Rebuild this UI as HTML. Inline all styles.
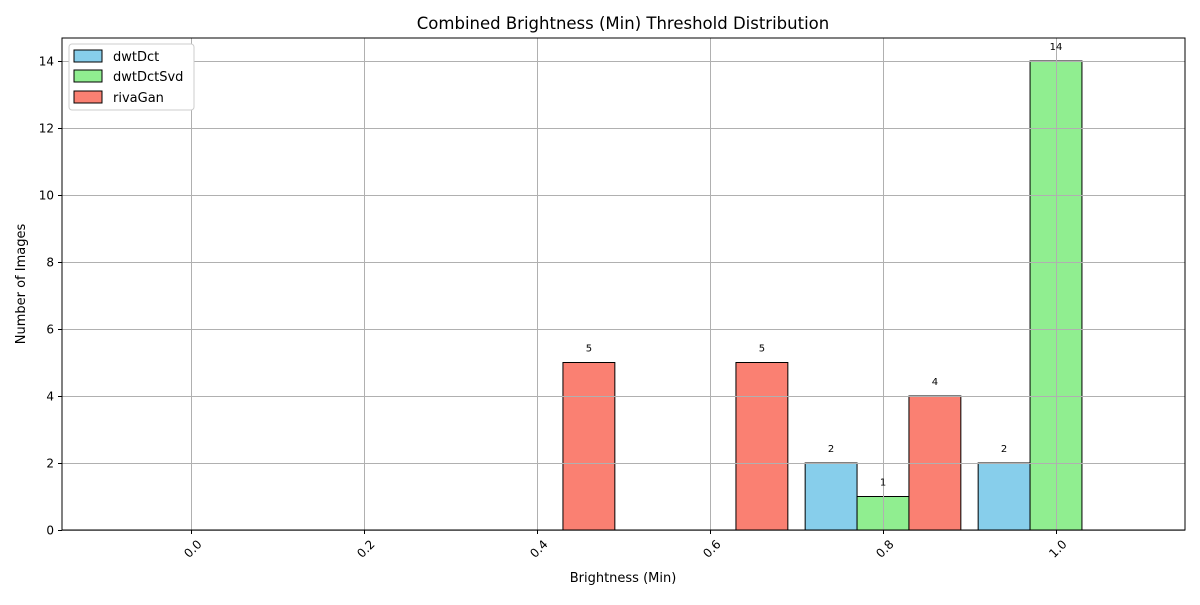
<!DOCTYPE html>
<html><head><meta charset="utf-8"><style>
body{margin:0;background:#fff;font-family:"Liberation Sans","DejaVu Sans",sans-serif;}
svg text{font-family:"DejaVu Sans","Liberation Sans",sans-serif;}
</style></head><body>
<svg id="chart" width="1200" height="600" xmlns="http://www.w3.org/2000/svg">
<rect width="1200" height="600" fill="#fff"/>
<text x="623" y="29" font-size="16.5" text-anchor="middle">Combined Brightness (Min) Threshold Distribution</text>
<g id="bars"></g>
<g id="grid"></g>
<g id="labels"></g>
<rect x="62" y="38" width="1123" height="492" fill="none" stroke="#000" stroke-width="1"/>
<g id="ticks"></g>
<text x="623" y="582" font-size="13" text-anchor="middle">Brightness (Min)</text>
<text transform="translate(25,284) rotate(-90)" font-size="13" text-anchor="middle">Number of Images</text>
<g>
<rect x="69" y="44" width="125" height="66" rx="3" fill="#fff" stroke="#ccc"/>
<rect x="74" y="50" width="28" height="12" fill="#87ceeb" stroke="#000"/>
<text x="113" y="61" font-size="13">dwtDct</text>
<rect x="74" y="70" width="28" height="12" fill="#90ee90" stroke="#000"/>
<text x="113" y="81" font-size="13">dwtDctSvd</text>
<rect x="74" y="91" width="28" height="12" fill="#fa8072" stroke="#000"/>
<text x="113" y="102" font-size="13">rivaGan</text>
</g>
</svg>
<script>
const categories=[0.0,0.2,0.4,0.6,0.8,1.0];
const dwtDct=[0,0,0,0,2,2];
const dwtDctSvd=[0,0,0,0,1,14];
const rivaGan=[0,0,5,5,4,0];
const yTicks=[0,2,4,6,8,10,12,14];
const xTickLabels=["0.0","0.2","0.4","0.6","0.8","1.0"];
const NS="http://www.w3.org/2000/svg";
const xS=v=>191+(v)*865;
const yS=v=>530-v*33.5;
const barW=0.06;
const series=[[dwtDct,"#87ceeb",-0.06,"dwtdct"],[dwtDctSvd,"#90ee90",0,"dwtdctsvd"],[rivaGan,"#fa8072",0.06,"rivagan"]];
const bars=document.getElementById('bars'),labels=document.getElementById('labels');
series.forEach(([vals,col,off,nm])=>{
  vals.forEach((v,i)=>{
    const c=categories[i]+off;
    const x0=xS(c-barW/2),x1=xS(c+barW/2);
    const r=document.createElementNS(NS,'rect');
    
    
    r.setAttribute('x',x0);r.setAttribute('width',x1-x0);
    r.setAttribute('y',yS(v));r.setAttribute('height',yS(0)-yS(v));
    r.setAttribute('fill',col);r.setAttribute('stroke','#000');r.setAttribute('stroke-width','1');
    bars.appendChild(r);
    if(v>0){
      const t=document.createElementNS(NS,'text');
      
      
      t.setAttribute('x',(x0+x1)/2);t.setAttribute('y',yS(v)-11);
      t.setAttribute('font-size','10');t.setAttribute('text-anchor','middle');
      t.textContent=v;labels.appendChild(t);
    }
  });
});
const grid=document.getElementById('grid'),ticks=document.getElementById('ticks');
yTicks.forEach(v=>{
  const y=Math.round(yS(v))+0.5;
  const l=document.createElementNS(NS,'line');
  
  
  l.setAttribute('x1',62);l.setAttribute('x2',1185);l.setAttribute('y1',y);l.setAttribute('y2',y);
  l.setAttribute('stroke','#b0b0b0');l.setAttribute('stroke-width','1');grid.appendChild(l);
  const tk=document.createElementNS(NS,'line');
  
  
  tk.setAttribute('x1',58);tk.setAttribute('x2',62);tk.setAttribute('y1',y);tk.setAttribute('y2',y);
  tk.setAttribute('stroke','#000');ticks.appendChild(tk);
  const t=document.createElementNS(NS,'text');
  
  
  t.setAttribute('x',54);t.setAttribute('y',yS(v)+4.5);t.setAttribute('font-size','12');t.setAttribute('text-anchor','end');
  t.textContent=v;ticks.appendChild(t);
});
categories.forEach((c,i)=>{
  const x=Math.round(xS(c))+0.5;
  const l=document.createElementNS(NS,'line');
  
  
  l.setAttribute('x1',x);l.setAttribute('x2',x);l.setAttribute('y1',38);l.setAttribute('y2',530);
  l.setAttribute('stroke','#b0b0b0');l.setAttribute('stroke-width','1');grid.appendChild(l);
  const tk=document.createElementNS(NS,'line');
  
  
  tk.setAttribute('x1',x);tk.setAttribute('x2',x);tk.setAttribute('y1',530);tk.setAttribute('y2',534);
  tk.setAttribute('stroke','#000');ticks.appendChild(tk);
  const t=document.createElementNS(NS,'text');
  
  
  t.setAttribute('transform','translate('+(x+11)+',545) rotate(-45)');
  t.setAttribute('font-size','12');t.setAttribute('text-anchor','end');
  t.textContent=xTickLabels[i];ticks.appendChild(t);
});
</script>
</body></html>
